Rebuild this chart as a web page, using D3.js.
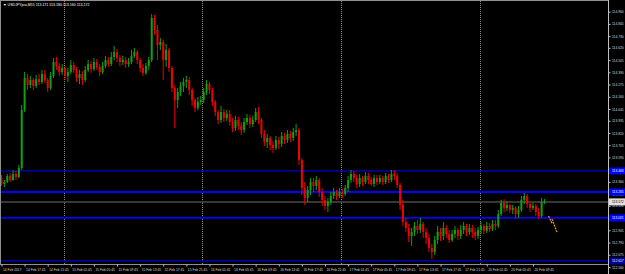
<!DOCTYPE html>
<html><head><meta charset="utf-8">
<script src="https://cdn.jsdelivr.net/npm/d3@7"></script>
<style>html,body{margin:0;padding:0;background:#000;overflow:hidden}svg{display:block}</style>
</head><body>
<svg id="c" width="625" height="274"></svg>
<script>
const opens=[113.397,113.340,113.359,113.416,113.378,113.434,113.406,113.491,114.036,114.337,
114.271,114.318,114.262,114.327,114.299,114.374,114.318,114.243,114.356,114.487,
114.450,114.393,114.431,114.356,114.393,114.459,114.412,114.337,114.374,114.318,
114.412,114.468,114.421,114.487,114.440,114.393,114.450,114.506,114.468,114.534,
114.581,114.525,114.487,114.506,114.468,114.487,114.544,114.581,114.506,114.431,
114.384,114.450,114.506,114.901,114.788,114.647,114.675,114.506,114.600,114.431,
114.243,114.130,114.205,114.262,114.299,114.318,114.224,114.130,114.055,114.111,
114.130,114.205,114.280,114.224,114.111,114.017,113.942,114.017,113.961,113.998,
113.923,113.867,113.942,113.886,113.848,113.923,113.961,113.904,113.942,114.017,
113.942,113.810,113.735,113.773,113.707,113.679,113.754,113.716,113.792,113.754,
113.810,113.773,113.829,113.848,113.566,113.303,113.209,113.284,113.359,113.322,
113.378,113.265,113.190,113.134,113.171,113.228,113.265,113.228,113.265,113.246,
113.303,113.378,113.434,113.397,113.340,113.397,113.359,113.416,113.378,113.340,
113.397,113.359,113.397,113.359,113.416,113.378,113.434,113.416,113.331,113.143,
112.983,112.927,112.852,112.889,112.946,112.908,112.964,112.889,112.833,112.739,
112.701,112.814,112.889,112.852,112.927,112.870,112.814,112.870,112.908,112.852,
112.908,112.946,112.889,112.927,112.889,112.852,112.908,112.946,112.899,112.946,
112.917,112.964,112.946,113.058,113.162,113.115,113.143,113.096,113.115,113.058,
113.096,113.190,113.228,113.152,113.115,113.134,113.077,113.040,113.171];
const highs=[113.425,113.378,113.434,113.444,113.472,113.463,113.519,114.083,114.393,114.374,
114.356,114.337,114.365,114.374,114.412,114.412,114.337,114.393,114.525,114.534,
114.478,114.468,114.450,114.431,114.506,114.487,114.440,114.412,114.403,114.450,
114.506,114.497,114.525,114.515,114.468,114.487,114.544,114.534,114.581,114.638,
114.609,114.553,114.544,114.534,114.525,114.600,114.619,114.600,114.525,114.468,
114.478,114.534,114.938,114.929,114.835,114.713,114.694,114.656,114.619,114.450,
114.271,114.243,114.299,114.337,114.356,114.346,114.243,114.149,114.158,114.168,
114.243,114.318,114.299,114.243,114.130,114.036,114.074,114.045,114.036,114.036,
113.961,113.980,113.970,113.923,113.961,113.998,113.989,113.980,114.055,114.064,
113.961,113.848,113.810,113.792,113.745,113.792,113.782,113.829,113.820,113.848,
113.839,113.867,113.904,113.867,113.585,113.359,113.322,113.397,113.397,113.416,
113.397,113.303,113.228,113.209,113.265,113.303,113.284,113.303,113.293,113.331,
113.416,113.472,113.463,113.425,113.434,113.416,113.453,113.444,113.406,113.425,
113.425,113.425,113.416,113.444,113.434,113.472,113.472,113.444,113.350,113.190,
113.021,112.964,112.927,112.983,113.002,113.021,112.983,112.927,112.870,112.776,
112.852,112.946,112.927,112.983,112.955,112.908,112.908,112.946,112.927,112.955,
112.983,112.964,112.964,112.955,112.927,112.936,112.983,112.964,112.983,112.974,
113.002,113.002,113.096,113.190,113.199,113.181,113.152,113.143,113.134,113.134,
113.228,113.256,113.246,113.171,113.162,113.152,113.115,113.209,113.199];
const lows=[113.322,113.312,113.350,113.359,113.369,113.378,113.397,113.472,114.017,114.224,
114.243,114.224,114.243,114.271,114.280,114.290,114.205,114.224,114.337,114.412,
114.356,114.365,114.318,114.299,114.374,114.384,114.299,114.280,114.271,114.299,
114.393,114.384,114.403,114.412,114.356,114.374,114.431,114.440,114.450,114.506,
114.487,114.450,114.459,114.431,114.440,114.468,114.525,114.468,114.393,114.356,
114.365,114.412,114.487,114.741,114.506,114.600,114.318,114.440,114.393,114.205,
113.867,114.055,114.168,114.205,114.243,114.177,114.074,114.017,114.036,114.083,
114.102,114.177,114.186,114.074,113.980,113.904,113.914,113.923,113.933,113.886,
113.829,113.839,113.848,113.801,113.820,113.895,113.867,113.876,113.923,113.904,
113.773,113.698,113.679,113.660,113.632,113.660,113.669,113.688,113.716,113.726,
113.735,113.745,113.792,113.519,113.237,113.143,113.171,113.237,113.265,113.284,
113.218,113.134,113.096,113.077,113.143,113.199,113.190,113.209,113.209,113.228,
113.265,113.350,113.359,113.303,113.312,113.322,113.340,113.340,113.322,113.312,
113.331,113.340,113.331,113.340,113.350,113.359,113.378,113.303,113.096,112.946,
112.889,112.795,112.758,112.852,112.870,112.880,112.833,112.776,112.701,112.635,
112.673,112.776,112.805,112.814,112.833,112.786,112.795,112.833,112.814,112.823,
112.870,112.852,112.861,112.833,112.814,112.823,112.870,112.870,112.880,112.889,
112.899,112.908,112.927,113.040,113.077,113.087,113.068,113.058,113.011,113.021,
113.077,113.152,113.115,113.077,113.096,113.040,113.011,113.021,113.152];
const closes=[113.340,113.359,113.416,113.378,113.434,113.406,113.491,114.036,114.337,114.271,
114.318,114.262,114.327,114.299,114.374,114.318,114.243,114.356,114.487,114.450,
114.393,114.431,114.356,114.393,114.459,114.412,114.337,114.374,114.318,114.412,
114.468,114.421,114.487,114.440,114.393,114.450,114.506,114.468,114.534,114.581,
114.525,114.487,114.506,114.468,114.487,114.544,114.581,114.506,114.431,114.384,
114.450,114.506,114.901,114.788,114.647,114.675,114.506,114.600,114.431,114.243,
114.130,114.205,114.262,114.299,114.318,114.224,114.130,114.055,114.111,114.130,
114.205,114.280,114.224,114.111,114.017,113.942,114.017,113.961,113.998,113.923,
113.867,113.942,113.886,113.848,113.923,113.961,113.904,113.942,114.017,113.942,
113.810,113.735,113.773,113.707,113.679,113.754,113.716,113.792,113.754,113.810,
113.773,113.829,113.848,113.566,113.303,113.209,113.284,113.359,113.322,113.378,
113.265,113.190,113.134,113.171,113.228,113.265,113.228,113.265,113.246,113.303,
113.378,113.434,113.397,113.340,113.397,113.359,113.416,113.378,113.340,113.397,
113.359,113.397,113.359,113.416,113.378,113.434,113.416,113.331,113.143,112.983,
112.927,112.852,112.889,112.946,112.908,112.964,112.889,112.833,112.739,112.701,
112.814,112.889,112.852,112.927,112.870,112.814,112.870,112.908,112.852,112.908,
112.946,112.889,112.927,112.889,112.852,112.908,112.946,112.899,112.946,112.917,
112.964,112.946,113.058,113.162,113.115,113.143,113.096,113.115,113.058,113.096,
113.190,113.228,113.152,113.115,113.134,113.077,113.040,113.171,113.172];

const priceTicks=[114.960,114.845,114.730,114.620,114.505,114.390,114.275,114.160,114.045,113.935,113.820,
113.705,113.590,113.475,113.360,113.245,113.135,113.020,112.905,112.790,112.675,112.560];
const timeLabels=["14 Feb 2017","14 Feb 17:45","14 Feb 21:45","15 Feb 01:45","15 Feb 05:45","15 Feb 09:45",
"15 Feb 13:45","15 Feb 17:45","15 Feb 21:45","16 Feb 01:45","16 Feb 05:45","16 Feb 09:45","16 Feb 13:45",
"16 Feb 17:45","16 Feb 21:45","17 Feb 01:45","17 Feb 05:45","17 Feb 09:45","17 Feb 13:45","17 Feb 17:45",
"17 Feb 21:45","20 Feb 01:45","20 Feb 05:45","20 Feb 09:45"];
const timeLabelBars=[0,8,16,24,32,40,48,56,64,72,80,88,96,104,112,120,128,136,144,152,160,168,176,184];
const daySeparators=[21.5,69.5,117.5,165.5];
const levelPrices=[113.463,113.265,113.021,112.617];
const orangeBars=[189.4,190.6,190.6,192.4];
const orangePrices=[113.040,112.971,113.011,112.880];
const titleText="\u25BC USDJPYpro,M15  113.171 113.180 113.160 113.172";

const svg=d3.select("#c");
const W=625,H=274, axisX=608.5, chartBottom=264.5;
const x=d3.scaleLinear().domain([0,188]).range([1.5,544.5]);
const y=d3.scaleLinear().domain([112.560,114.960]).range([267.0,11.7]);
const FONT="'Liberation Sans', Arial, sans-serif";

svg.append("rect").attr("width",W).attr("height",H).attr("fill","#000");

// day separators
svg.append("g").selectAll("line").data(daySeparators).join("line")
  .attr("x1",d=>Math.round(x(d))+0.5).attr("x2",d=>Math.round(x(d))+0.5)
  .attr("y1",1).attr("y2",chartBottom)
  .attr("stroke","#8a8a8a").attr("stroke-width",1).attr("stroke-dasharray","1,1");

// horizontal level lines
const levelColors=["#0000ff","#0000ff","#0000ff","#000098"];
const levelWidths=[1,1.8,1.8,1.8];
svg.append("g").selectAll("line").data(levelPrices).join("line")
  .attr("x1",0).attr("x2",axisX).attr("y1",d=>y(d)).attr("y2",d=>y(d))
  .attr("stroke",(d,i)=>levelColors[i]).attr("stroke-width",(d,i)=>levelWidths[i]);

// bid line
const bid=closes[closes.length-1];
svg.append("line").attr("x1",0).attr("x2",axisX).attr("y1",y(bid)).attr("y2",y(bid))
  .attr("stroke","#4a4a4a").attr("stroke-width",1.5);

// candles
const bull="#10a010", bear="#f00000";
const idx=d3.range(closes.length);
const cg=svg.append("g");
cg.selectAll("line").data(idx).join("line")
  .attr("x1",i=>x(i)).attr("x2",i=>x(i))
  .attr("y1",i=>y(highs[i])).attr("y2",i=>y(lows[i]))
  .attr("stroke",i=>closes[i]>=opens[i]?bull:bear).attr("stroke-width",1);
cg.selectAll("rect").data(idx).join("rect")
  .attr("x",i=>x(i)-1).attr("width",2)
  .attr("y",i=>y(Math.max(opens[i],closes[i])))
  .attr("height",i=>Math.max(1,Math.abs(y(opens[i])-y(closes[i]))))
  .attr("fill",i=>closes[i]>=opens[i]?bull:bear);

// orange segments
const og=svg.append("g");
[0,2].forEach(s=>{
  og.append("line").attr("x1",x(orangeBars[s])).attr("y1",y(orangePrices[s]))
    .attr("x2",x(orangeBars[s+1])).attr("y2",y(orangePrices[s+1]))
    .attr("stroke","#ff9a00").attr("stroke-width",1.2).attr("stroke-dasharray","2,1");
});

// frame
svg.append("line").attr("x1",0.5).attr("x2",0.5).attr("y1",0).attr("y2",chartBottom).attr("stroke","#909090");
svg.append("line").attr("x1",0).attr("x2",axisX).attr("y1",0.5).attr("y2",0.5).attr("stroke","#909090");
svg.append("line").attr("x1",0).attr("x2",axisX).attr("y1",chartBottom).attr("y2",chartBottom).attr("stroke","#909090");
svg.append("line").attr("x1",axisX).attr("x2",axisX).attr("y1",0).attr("y2",H).attr("stroke","#c0c0c0");

// right axis
const ra=svg.append("g").attr("transform",`translate(${axisX},0)`)
  .call(d3.axisRight(y).tickValues(priceTicks).tickFormat(d3.format(".3f")).tickSize(2).tickPadding(1.5));
ra.select(".domain").remove();
ra.selectAll("line").attr("stroke","#c0c0c0");
ra.selectAll("text").attr("fill","#d8d8d8").style("font-family",FONT).style("font-size","3.3px");

// level labels
const lab=svg.append("g");
levelPrices.forEach((p,i)=>{
  lab.append("rect").attr("x",axisX+0.5).attr("y",y(p)-3.5).attr("width",W-axisX).attr("height",7).attr("fill",levelColors[i]);
  lab.append("text").attr("x",axisX+3.5).attr("y",y(p)+1.2).text(p.toFixed(3))
    .attr("fill","#ffffff").style("font-family",FONT).style("font-size","3.3px");
});
lab.append("rect").attr("x",axisX+0.5).attr("y",y(bid)-3.5).attr("width",W-axisX).attr("height",7).attr("fill","#e0e0e0");
lab.append("text").attr("x",axisX+3.5).attr("y",y(bid)+1.2).text(bid.toFixed(3))
  .attr("fill","#000").style("font-family",FONT).style("font-size","3.3px");

// bottom axis
const ba=svg.append("g").attr("transform",`translate(0,${chartBottom})`)
  .call(d3.axisBottom(x).tickValues(timeLabelBars).tickFormat((d,i)=>timeLabels[i]).tickSize(2).tickPadding(2));
ba.select(".domain").remove();
ba.selectAll("line").attr("stroke","#c0c0c0");
ba.selectAll("text").attr("fill","#d8d8d8").attr("text-anchor","start").attr("dx","1")
  .style("font-family",FONT).style("font-size","3.3px");

// title
svg.append("text").attr("x",3).attr("y",6).text(titleText)
  .attr("fill","#ffffff").style("font-family",FONT).style("font-size","3.6px");
</script>
</body></html>
